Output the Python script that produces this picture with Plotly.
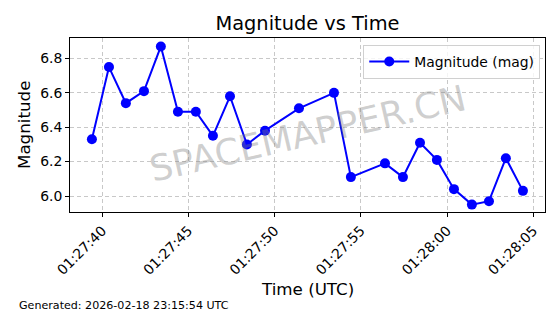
import plotly.graph_objects as go

times = [
    "2026-02-18 01:27:39.40", "2026-02-18 01:27:40.39", "2026-02-18 01:27:41.37",
    "2026-02-18 01:27:42.42", "2026-02-18 01:27:43.40", "2026-02-18 01:27:44.39",
    "2026-02-18 01:27:45.43", "2026-02-18 01:27:46.42", "2026-02-18 01:27:47.41",
    "2026-02-18 01:27:48.39", "2026-02-18 01:27:49.44", "2026-02-18 01:27:51.41",
    "2026-02-18 01:27:53.44", "2026-02-18 01:27:54.42", "2026-02-18 01:27:56.40",
    "2026-02-18 01:27:57.44", "2026-02-18 01:27:58.43", "2026-02-18 01:27:59.41",
    "2026-02-18 01:28:00.40", "2026-02-18 01:28:01.44", "2026-02-18 01:28:02.43",
    "2026-02-18 01:28:03.41", "2026-02-18 01:28:04.40",
]
magnitudes = [6.33, 6.75, 6.54, 6.61, 6.87, 6.49, 6.49, 6.35, 6.58, 6.30, 6.38, 6.51,
              6.60, 6.11, 6.19, 6.11, 6.31, 6.21, 6.04, 5.95, 5.97, 6.22, 6.03]

x_range = ["2026-02-18 01:27:38.13", "2026-02-18 01:28:05.68"]
y_range = [5.907, 6.919]
y_ticks = [6.0, 6.2, 6.4, 6.6, 6.8]

FONT = "DejaVu Sans, Liberation Sans, sans-serif"

fig = go.Figure()
fig.add_trace(go.Scatter(
    x=times, y=magnitudes, mode="lines+markers", name="Magnitude (mag)",
    line=dict(color="#0000ff", width=2),
    marker=dict(color="#0000ff", size=10),
))

fig.update_layout(
    width=560, height=314,
    margin=dict(l=70, r=15, t=38, b=102),
    paper_bgcolor="white", plot_bgcolor="white",
    font=dict(family=FONT, color="black", size=13.9),
    showlegend=True,
    legend=dict(x=0.99, y=0.96, xanchor="right", yanchor="top",
                bgcolor="rgba(255,255,255,0.8)", bordercolor="#d0d0d0", borderwidth=1,
                itemwidth=40, font=dict(size=13.9, family=FONT)),
    title=dict(text="Magnitude vs Time", x=0.5, xref="paper", y=1 - 23 / 314,
               yref="container", xanchor="center", yanchor="middle",
               font=dict(size=19.4, family=FONT, color="black")),
)

grid = dict(showgrid=True, gridcolor="#c8c8c8", griddash="4px,3px", gridwidth=1)
fig.update_xaxes(
    range=x_range, type="date", tickformat="%H:%M:%S", dtick=5000,
    tick0="2026-02-18 01:27:40", tickangle=-45,
    showline=True, mirror=True, linecolor="black", linewidth=1,
    ticks="outside", ticklen=4, tickcolor="black",
    zeroline=False, tickfont=dict(size=13.9, family=FONT), **grid,
)
fig.update_yaxes(
    range=y_range, tickvals=y_ticks, tickformat=".1f",
    showline=True, mirror=True, linecolor="black", linewidth=1,
    ticks="outside", ticklen=4, tickcolor="black",
    zeroline=False, tickfont=dict(size=13.9, family=FONT), **grid,
)

fig.add_annotation(text="SPACEMAPPER.CN", xref="paper", yref="paper",
                   x=0.501, y=0.454, showarrow=False, textangle=-13,
                   font=dict(size=36, family=FONT, color="rgba(128,128,128,0.38)"))
fig.add_annotation(text="Time (UTC)", xref="paper", yref="paper",
                   x=0.5, y=(212 - 289) / 174, yanchor="middle", showarrow=False,
                   font=dict(size=16.7, family=FONT, color="black"))
fig.add_annotation(text="Magnitude", xref="paper", yref="paper",
                   x=(24 - 70) / 475, y=(212 - 125) / 174, xanchor="center", yanchor="middle",
                   showarrow=False, textangle=-90,
                   font=dict(size=16.7, family=FONT, color="black"))
fig.add_annotation(text="Generated: 2026-02-18 23:15:54 UTC", xref="paper", yref="paper",
                   x=(17 - 70) / 475, y=(212 - 305) / 174, xanchor="left", yanchor="middle",
                   showarrow=False, font=dict(size=11.1, family=FONT, color="black"))

fig.write_html("out.html")
